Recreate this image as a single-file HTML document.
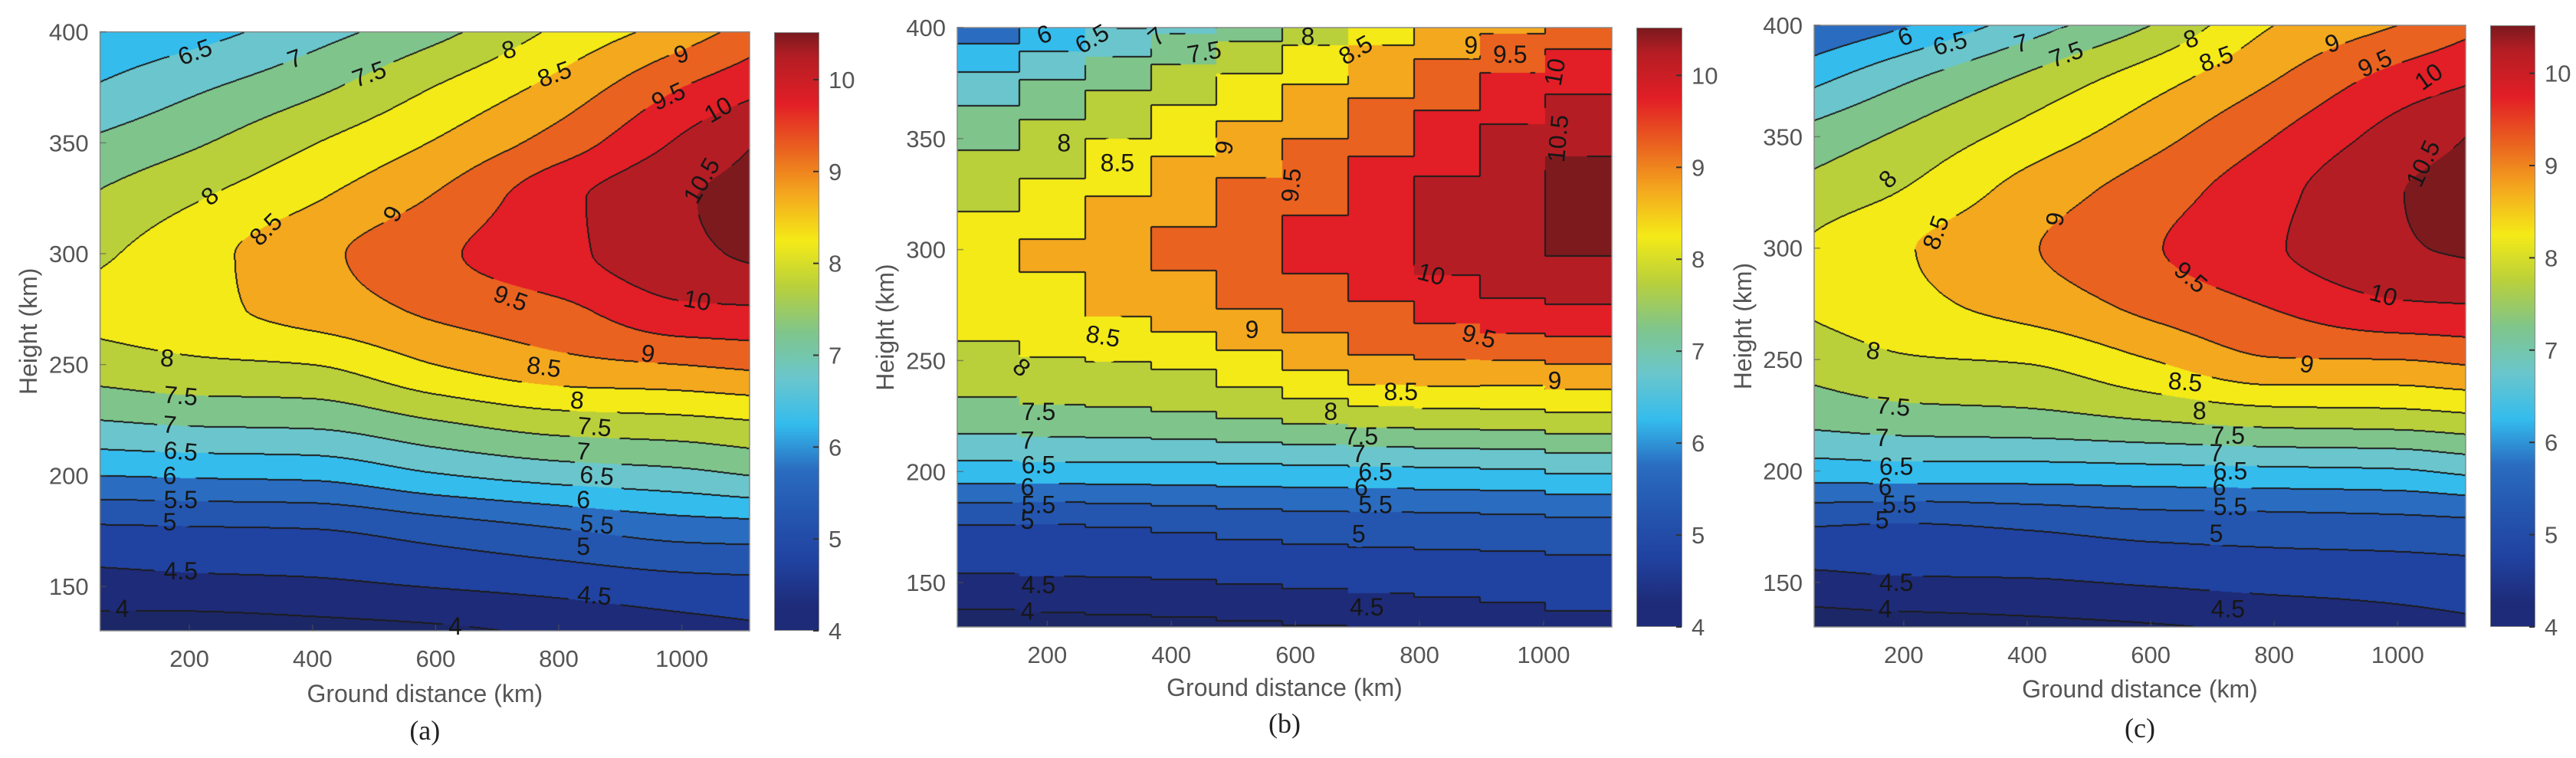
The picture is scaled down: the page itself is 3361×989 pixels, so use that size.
<!DOCTYPE html>
<html><head><meta charset="utf-8">
<style>
html,body{margin:0;padding:0;background:#fff;}
#root{position:relative;width:3361px;height:989px;overflow:hidden;background:#fff;}
canvas{position:absolute;}
svg{position:absolute;left:0;top:0;}
.cb{position:absolute;box-sizing:border-box;border:1.5px solid #888;}
</style></head>
<body>
<div id="root">
<canvas id="cvA"></canvas>
<canvas id="cvB"></canvas>
<canvas id="cvC"></canvas>
<div class="cb" id="cbA"></div>
<div class="cb" id="cbB"></div>
<div class="cb" id="cbC"></div>
<svg id="ov" width="3361" height="989"></svg>
</div>
<script>
// ---- data ----
const gridX = [55, 200, 400, 600, 800, 1000, 1110];
const gridY = [130, 150, 175, 200, 225, 250, 275, 300, 325, 350, 375, 400];
// values per x column (bottom to top)
const valuesA = [
 [3.75,4.3,4.9,6.0,7.0,7.75,8.15,7.92,7.57,7.1,6.55,6.1],
 [3.7,4.35,4.93,6.05,7.1,7.9,8.35,8.3,7.94,7.42,6.9,6.3],
 [3.8,4.4,4.97,6.1,7.15,8.0,8.7,8.85,8.45,7.98,7.38,6.8],
 [3.9,4.52,5.2,6.45,7.5,8.5,9.1,9.4,9.05,8.54,8.02,7.35],
 [4.1,4.65,5.45,6.7,7.8,8.85,9.38,9.85,9.85,9.22,8.67,8.1],
 [4.3,4.8,5.7,6.85,7.9,9.0,9.9,10.4,10.45,10.08,9.5,8.75],
 [4.4,4.85,5.75,7.0,8.0,9.1,9.95,10.55,10.65,10.47,9.85,9.2]
];
const valuesC = [
 [3.7,4.35,5.0,6.25,7.2,7.7,8.05,8.05,7.68,7.2,6.4,5.5],
 [3.75,4.43,4.95,6.3,7.33,7.95,8.35,8.45,8.03,7.6,6.95,5.95],
 [3.85,4.45,5.05,6.3,7.4,8.05,8.7,8.95,8.7,8.2,7.62,6.75],
 [3.95,4.55,5.2,6.35,7.6,8.5,9.15,9.45,9.25,8.82,8.3,7.5],
 [4.1,4.65,5.25,6.4,7.8,8.97,9.55,9.95,9.85,9.5,9.0,8.5],
 [4.3,4.7,5.3,6.45,7.85,9.0,9.95,10.45,10.48,10.2,9.7,9.0],
 [4.4,4.75,5.35,6.6,7.95,9.1,10.0,10.55,10.65,10.5,9.95,9.35]
];
// panel (b): same field sampled on coarse ground-distance bins
const binEdgesB = [55,155,261,367,473,579,685,791,897,1003,1110];
const levels = [4,4.5,5,5.5,6,6.5,7,7.5,8,8.5,9,9.5,10,10.5];
const xTicks = [200,400,600,800,1000];
const yTicks = [150,200,250,300,350,400];
const cbTicks = [4,5,6,7,8,9,10];
const labelsA = [
 ["6.5",209,391,-20],["7",371,388,-20],["7.5",492,381,-20],["8",719,392,-15],["8.5",793,381,-20],
 ["9",999,390,-20],["9.5",978,371,-25],["10",1059,365,-30],["8",233,326,-40],["8.5",324,311,-45],
 ["9",530,318,-60],["10.5",1032,333,-60],["9.5",722,280,20],["10",1025,279,10],["9",945,255,10],
 ["8",164,253,5],["8.5",776,249,8],["7.5",186,236,5],["8",830,234,5],["7",168,223,5],["7.5",858,222,5],
 ["6.5",186,211,5],["7",840,211,5],["6",168,200,0],["6.5",862,200,5],["5.5",186,189,0],["6",840,189,0],
 ["5",168,179,0],["5.5",862,178,5],["5",840,168,0],["4.5",186,157,0],["4.5",858,146,5],["4",91,140,0],["4",632,132,0]
];
const labelsB = [
 ["6",195,397,-20],["6.5",272,395,-30],["7",376,396,-40],["7.5",453,389,-10],["8",620,396,0],["8.5",697,390,-30],
 ["9",883,392,0],["9.5",946,388,0],["10",1018,380,-80],["8",227,348,0],["8.5",313,339,0],["9",485,346,-80],
 ["9.5",593,329,-85],["10.5",1023,350,-85],["10",819,289,15],["8.5",290,261,10],["9",530,264,0],["9.5",896,261,15],
 ["9",1018,241,0],["8",159,247,40],["8.5",770,236,0],["7.5",186,227,0],["8",657,227,0],["7",168,214,0],
 ["7.5",706,216,0],["7",702,208,0],["6.5",186,203,0],["6.5",729,200,0],["6",168,193,0],["6",706,193,0],
 ["5.5",186,185,0],["5.5",729,185,0],["5",168,178,0],["5",702,172,0],["4.5",186,149,0],["4.5",715,139,0],["4",168,137,0]
];
const labelsC = [
 ["6",202,395,-20],["6.5",275,392,-15],["7",390,392,-15],["7.5",463,387,-20],["8",665,394,-20],["8.5",706,385,-20],
 ["9",894,392,-20],["9.5",963,383,-25],["10",1050,377,-35],["8",174,331,-45],["8.5",252,307,-70],["9",445,313,-80],
 ["10.5",1041,338,-65],["9.5",665,287,40],["10",977,279,15],["9",853,248,10],["8",151,254,10],["8.5",656,240,5],
 ["7.5",183,229,5],["8",679,227,0],["7",165,215,0],["7.5",725,216,0],["7",706,208,0],["6.5",188,202,0],
 ["6.5",729,200,0],["6",170,193,0],["6",711,193,0],["5.5",193,185,0],["5.5",729,184,0],["5",165,178,0],
 ["5",706,172,0],["4.5",188,150,0],["4.5",725,138,0],["4",170,138,0]
];
const bandColors = ["#1c2768","#1e2b78","#2042a0","#2456af","#2a6cc0","#34bced","#6ac6cc","#7fc58b","#b9d03b","#f4ea17","#f4a81e","#ea621f","#e21e26","#b51d24","#7d1a1e"];

// ---- geometry ----
const X0=55, X1=1110, Y0=130, Y1=400, C0=4, C1=10.52;
const panels = [
 {id:'a', cv:'cvA', cb:'cbA', l:130.6, r:978, t:41.6, b:823, cbl:1010, cbr:1069, z:valuesA, quant:false, labels:labelsA, ytitleX:37, letter:'(a)', letterY:965, xtitleY:916},
 {id:'b', cv:'cvB', cb:'cbB', l:1249, r:2103, t:36, b:818, cbl:2135, cbr:2195, z:valuesC, quant:true, labels:labelsB, ytitleX:1155, letter:'(b)', letterY:956, xtitleY:908},
 {id:'c', cv:'cvC', cb:'cbC', l:2367, r:3217, t:33, b:818, cbl:3249, cbr:3308, z:valuesC, quant:false, labels:labelsC, ytitleX:2274, letter:'(c)', letterY:962, xtitleY:910}
];

function pchip(xs, vs, x){
  const n=xs.length;
  if(x<=xs[0]) x=xs[0]; if(x>=xs[n-1]) x=xs[n-1];
  let i=0; while(i<n-2 && x>xs[i+1]) i++;
  const sec=k=>(vs[k+1]-vs[k])/(xs[k+1]-xs[k]);
  const slope=k=>{
    if(k===0) return sec(0);
    if(k===n-1) return sec(n-2);
    const d0=sec(k-1), d1=sec(k);
    if(d0*d1<=0) return 0;
    const h0=xs[k]-xs[k-1], h1=xs[k+1]-xs[k];
    const w1=2*h1+h0, w2=h1+2*h0;
    return (w1+w2)/(w1/d0+w2/d1);
  };
  const h=xs[i+1]-xs[i], t=(x-xs[i])/h;
  const m0=slope(i)*h, m1=slope(i+1)*h;
  const t2=t*t,t3=t2*t;
  return (2*t3-3*t2+1)*vs[i]+(t3-2*t2+t)*m0+(-2*t3+3*t2)*vs[i+1]+(t3-t2)*m1;
}
function hex(c){return [parseInt(c.substr(1,2),16),parseInt(c.substr(3,2),16),parseInt(c.substr(5,2),16)];}
const rgb = bandColors.map(hex);
const NS='http://www.w3.org/2000/svg';
const ov=document.getElementById('ov');
function svgEl(tag, attrs, txt){
  const e=document.createElementNS(NS,tag);
  for(const k in attrs) e.setAttribute(k,attrs[k]);
  if(txt!==undefined) e.textContent=txt;
  ov.appendChild(e); return e;
}
function levelIndex(v){
  let k=0; while(k<levels.length && v>=levels[k]) k++; return k;
}

panels.forEach(p=>{
  const w=Math.round(p.r-p.l), h=Math.round(p.b-p.t);
  const sx=x=>p.l+(x-X0)/(X1-X0)*(p.r-p.l);
  const sy=y=>p.b-(y-Y0)/(Y1-Y0)*(p.b-p.t);
  const cv=document.getElementById(p.cv);
  cv.width=w; cv.height=h; cv.style.left=p.l+'px'; cv.style.top=p.t+'px';
  const ctx=cv.getContext('2d');
  const lev=new Uint8Array(w*h);
  const nRows=gridY.length;
  for(let i=0;i<w;i++){
    let xk=X0+(i+0.5)/w*(X1-X0);
    if(p.quant){
      let k=0; while(k<binEdgesB.length-2 && xk>binEdgesB[k+1]) k++;
      xk=binEdgesB[k]+0.7*(binEdgesB[k+1]-binEdgesB[k]);
    }
    const col=[];
    for(let r=0;r<nRows;r++){
      col.push(pchip(gridX, p.z.map(c=>c[r]), xk));
    }
    for(let j=0;j<h;j++){
      const yk=Y1-(j+0.5)/h*(Y1-Y0);
      lev[j*w+i]=levelIndex(pchip(gridY,col,yk));
    }
  }
  // label mask
  const mask=new Uint8Array(w*h);
  p.labels.forEach(L=>{
    const cx=sx(L[1])-p.l, cy=sy(L[2])-p.t;
    const rr=L[0].length*9+8;
    for(let y=Math.max(0,Math.floor(cy-rr));y<Math.min(h,cy+rr);y++)
      for(let x=Math.max(0,Math.floor(cx-rr));x<Math.min(w,cx+rr);x++)
        if((x-cx)*(x-cx)+(y-cy)*(y-cy)<rr*rr) mask[y*w+x]=1;
  });
  const img=ctx.createImageData(w,h);
  const d=img.data;
  for(let k=0;k<w*h;k++){const c=rgb[lev[k]];d[4*k]=c[0];d[4*k+1]=c[1];d[4*k+2]=c[2];d[4*k+3]=255;}
  const dark=(k)=>{ if(mask[k]) return; d[4*k]=28;d[4*k+1]=28;d[4*k+2]=28; };
  for(let j=0;j<h;j++)for(let i=0;i<w;i++){
    const k=j*w+i;
    if(i<w-1 && lev[k]!==lev[k+1]){dark(k);dark(k+1);}
    if(j<h-1 && lev[k]!==lev[k+w]){dark(k);dark(k+w);}
  }
  ctx.putImageData(img,0,0);
  // frame
  const fr=svgEl('rect',{x:p.l,y:p.t,width:p.r-p.l,height:p.b-p.t,fill:'none',stroke:'#888','stroke-width':1.5});
  
  
  // colorbar
  const cb=document.getElementById(p.cb);
  cb.style.left=p.cbl+'px'; cb.style.top=p.t+'px'; cb.style.width=(p.cbr-p.cbl)+'px'; cb.style.height=(p.b-p.t)+'px';
  const stops=[];
  bandColors.forEach((c,k)=>{
    if(k===0) return;
    const lo=levels[k-1], hi=k<levels.length?levels[k]:C1;
    const mid=(lo+Math.min(hi,C1))/2;
    stops.push(c+' '+((mid-C0)/(C1-C0)*100).toFixed(1)+'%');
  });
  cb.style.background='linear-gradient(to top,'+stops.join(',')+')';
  const cy=v=>p.b-(v-C0)/(C1-C0)*(p.b-p.t);
  cbTicks.forEach(v=>{
    const tl=svgEl('line',{x1:p.cbr-8,x2:p.cbr-1,y1:cy(v),y2:cy(v),stroke:'#333','stroke-width':2});
    
    
    const t=svgEl('text',{x:p.cbr+12,y:cy(v)+11,'font-family':'Liberation Sans, sans-serif','font-size':31,fill:'#555'},String(v));
    
    
  });
  // axis ticks
  xTicks.forEach(v=>{
    const tl=svgEl('line',{x1:sx(v),x2:sx(v),y1:p.b,y2:p.b-8,stroke:'#555','stroke-width':1.5,opacity:0.6});
    
    
    const t=svgEl('text',{x:sx(v),y:p.b+47,'text-anchor':'middle','font-family':'Liberation Sans, sans-serif','font-size':31,fill:'#555'},String(v));
    
    
  });
  yTicks.forEach(v=>{
    const tl=svgEl('line',{x1:p.l,x2:p.l+8,y1:sy(v),y2:sy(v),stroke:'#555','stroke-width':1.5,opacity:0.6});
    
    
    const t=svgEl('text',{x:p.l-15,y:sy(v)+11,'text-anchor':'end','font-family':'Liberation Sans, sans-serif','font-size':31,fill:'#555'},String(v));
    
    
  });
  const xt=svgEl('text',{x:(p.l+p.r)/2,y:p.xtitleY,'text-anchor':'middle','font-family':'Liberation Sans, sans-serif','font-size':32,fill:'#555'},'Ground distance (km)');
  
  
  const ymid=(p.t+p.b)/2, yx=p.ytitleX+11;
  const yt=svgEl('text',{x:yx,y:ymid,'text-anchor':'middle',transform:'rotate(-90 '+yx+' '+ymid+')','font-family':'Liberation Sans, sans-serif','font-size':32,fill:'#555'},'Height (km)');
  
  
  const lt=svgEl('text',{x:(p.l+p.r)/2,y:p.letterY,'text-anchor':'middle','font-family':'Liberation Serif, serif','font-size':36,fill:'#222'},p.letter);
  
  
  // contour labels
  p.labels.forEach(L=>{
    const x=sx(L[1]), y=sy(L[2]);
    const t=svgEl('text',{x:x,y:y+11,'text-anchor':'middle',transform:'rotate('+L[3]+' '+x+' '+y+')','font-family':'Liberation Sans, sans-serif','font-size':32,fill:'#161616'},L[0]);
    
    
  });
});
</script>
</body></html>
